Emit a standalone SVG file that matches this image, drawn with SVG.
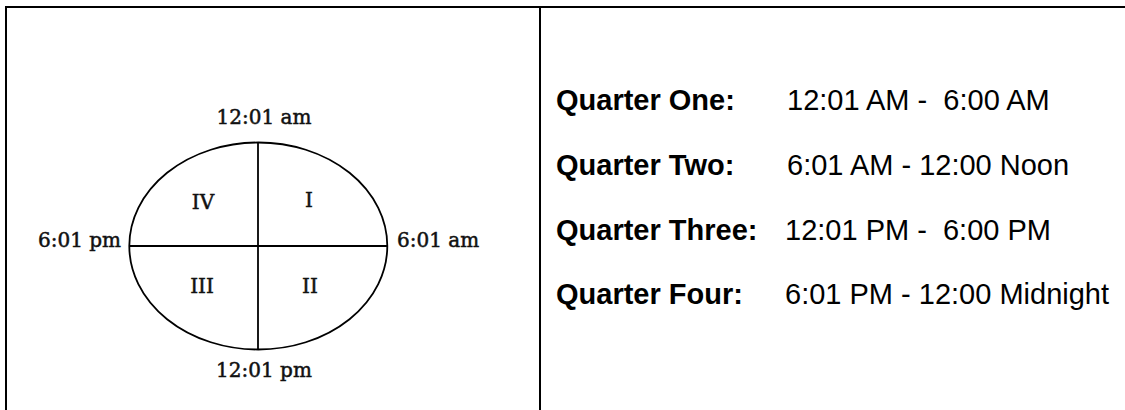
<svg xmlns="http://www.w3.org/2000/svg" width="1125" height="410" viewBox="0 0 1125 410">
  <style>
    .frame { stroke: #000; stroke-width: 2; fill: none; }
    .clk { stroke: #000; stroke-width: 1.8; fill: none; }
    .lbl { font-family: "DejaVu Serif", "Liberation Serif", serif; font-size: 20px; fill: #111; stroke: #111; stroke-width: 0.5; }
    .q { font-family: "Liberation Sans", Arial, sans-serif; font-size: 29px; font-weight: bold; fill: #000; }
    .v { font-family: "Liberation Sans", Arial, sans-serif; font-size: 29px; fill: #000; white-space: pre; }
  </style>
  <rect width="1125" height="410" fill="#fff"/>
  <g id="frame">
    <line class="frame" x1="5" y1="7" x2="1125" y2="7"/>
    <line class="frame" x1="6" y1="6" x2="6" y2="410"/>
    <line class="frame" x1="540" y1="6" x2="540" y2="410"/>
  </g>
  <g id="clock">
    <ellipse class="clk" cx="258.3" cy="246" rx="129" ry="103.5"/>
    <line class="clk" x1="258" y1="142.5" x2="258" y2="349.5"/>
    <line class="clk" x1="129.3" y1="246" x2="387.3" y2="246"/>
  </g>
  <g id="clock-labels">
    <text class="lbl" x="264" y="124" text-anchor="middle">12:01 am</text>
    <text class="lbl" x="264" y="377" text-anchor="middle">12:01 pm</text>
    <text class="lbl" x="121" y="247" text-anchor="end">6:01 pm</text>
    <text class="lbl" x="397" y="247">6:01 am</text>
  </g>
  <g id="quadrants">
    <text class="lbl" x="203" y="209" text-anchor="middle">IV</text>
    <text class="lbl" x="309" y="207" text-anchor="middle">I</text>
    <text class="lbl" x="202" y="293" text-anchor="middle">III</text>
    <text class="lbl" x="310" y="293" text-anchor="middle">II</text>
  </g>
  <g id="q1">
    <text class="q" x="556" y="110">Quarter One:</text>
    <text class="v" x="787" y="110">12:01 AM -  6:00 AM</text>
  </g>
  <g id="q2">
    <text class="q" x="556" y="175">Quarter Two:</text>
    <text class="v" x="787" y="175">6:01 AM - 12:00 Noon</text>
  </g>
  <g id="q3">
    <text class="q" x="556" y="240">Quarter Three:</text>
    <text class="v" x="785" y="240">12:01 PM -  6:00 PM</text>
  </g>
  <g id="q4">
    <text class="q" x="556" y="304">Quarter Four:</text>
    <text class="v" x="785" y="304">6:01 PM - 12:00 Midnight</text>
  </g>
</svg>
